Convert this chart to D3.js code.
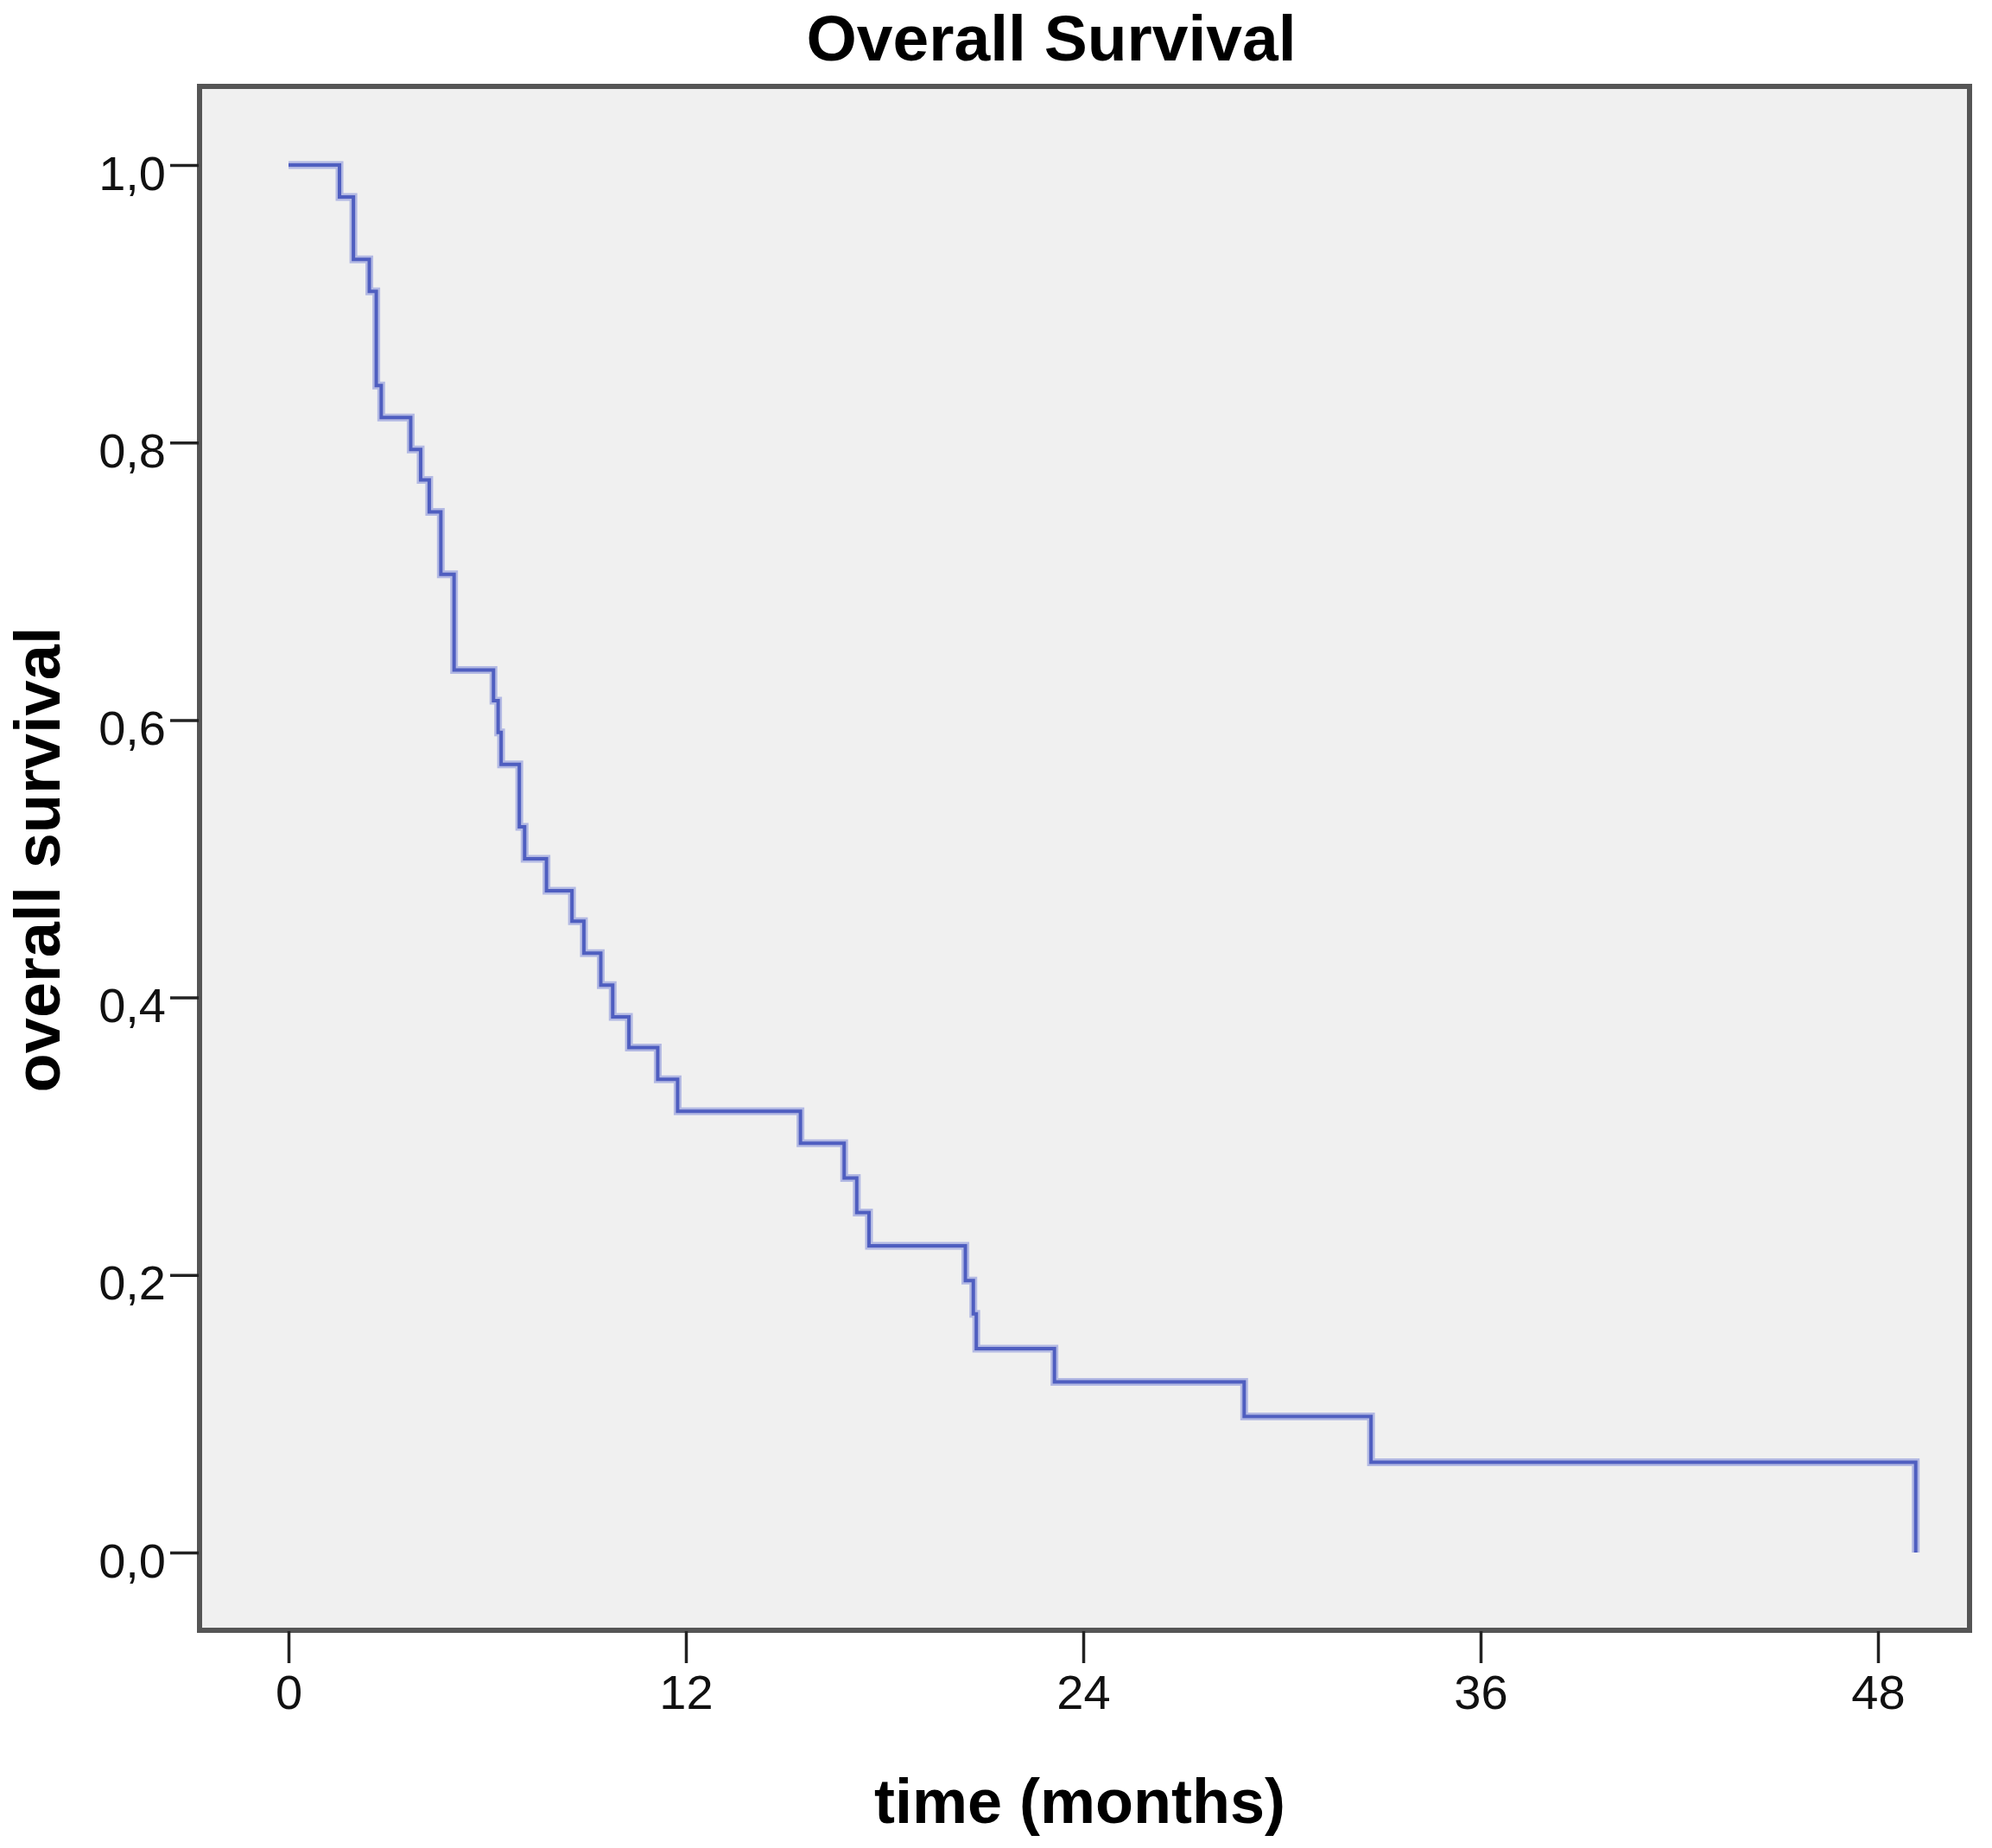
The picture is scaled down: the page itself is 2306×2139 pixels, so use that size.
<!DOCTYPE html>
<html>
<head>
<meta charset="utf-8">
<script src="https://cdn.jsdelivr.net/npm/d3@7"></script>
<style>
  html, body { margin: 0; padding: 0; background: #fff; }
  svg { display: block; font-family: "Liberation Sans", Arial, sans-serif; }
</style>
</head>
<body>
<div id="chart"></div>
<script>
// Kaplan-Meier step points (months, survival after the step)
const times = [0, 1.54, 1.96, 2.44, 2.65, 2.80, 3.69, 3.99, 4.25, 4.60, 5.00,
  6.19, 6.33, 6.42, 6.97, 7.13, 7.79, 8.56, 8.92, 9.43, 9.79, 10.28, 11.15, 11.75,
  15.46, 16.78, 17.16, 17.53, 20.44, 20.68, 20.77, 23.13, 28.86, 32.69, 49.14];
const survival = [1.0, 0.977, 0.932, 0.909, 0.841, 0.818, 0.795, 0.773, 0.750, 0.705, 0.636,
  0.614, 0.591, 0.568, 0.523, 0.500, 0.477, 0.455, 0.432, 0.409, 0.386, 0.364, 0.341, 0.318,
  0.295, 0.270, 0.245, 0.221, 0.196, 0.172, 0.147, 0.123, 0.098, 0.065, 0.0];

const xTicks = [0, 12, 24, 36, 48];
const yTicks = [0, 0.2, 0.4, 0.6, 0.8, 1.0];

const W = 2306, H = 2139;
// plot frame
const frame = { left: 231, top: 100, right: 2280, bottom: 1887 };

const svg = d3.select("#chart").append("svg")
  .attr("width", W)
  .attr("height", H);

const x = d3.scaleLinear().domain([0, 48]).range([334, 2174]);
const y = d3.scaleLinear().domain([0, 1]).range([1797, 191]);

// 背景
svg.append("rect")
  .attr("x", frame.left).attr("y", frame.top)
  .attr("width", frame.right - frame.left)
  .attr("height", frame.bottom - frame.top)
  .attr("fill", "#f0f0f0");

// curve
const pts = times.map((t, i) => [t, survival[i]]);
const line = d3.line()
  .x(d => x(d[0]))
  .y(d => y(d[1]))
  .curve(d3.curveStepAfter);

svg.append("path")
  .datum(pts)
  .attr("fill", "none")
  .attr("stroke", "#b3b9e3")
  .attr("stroke-width", 9)
  .attr("d", line);

svg.append("path")
  .datum(pts)
  .attr("fill", "none")
  .attr("stroke", "#4f5ec0")
  .attr("stroke-width", 4)
  .attr("d", line);

// frame border
svg.append("rect")
  .attr("x", frame.left).attr("y", frame.top)
  .attr("width", frame.right - frame.left)
  .attr("height", frame.bottom - frame.top)
  .attr("fill", "none")
  .attr("stroke", "#555")
  .attr("stroke-width", 6);

const fmt = d => d3.format(".1f")(d).replace(".", ",");

// y axis
svg.append("g")
  .attr("transform", `translate(${frame.left - 1},0)`)
  .call(d3.axisLeft(y).tickValues(yTicks).tickFormat(fmt).tickSize(33).tickPadding(5))
  .call(g => g.select(".domain").remove())
  .call(g => g.selectAll(".tick line").attr("stroke", "#222").attr("stroke-width", 3.5))
  .call(g => g.selectAll(".tick text")
    .attr("font-size", 56)
    .attr("font-family", "Liberation Sans, Arial, sans-serif")
    .attr("fill", "#111")
    .attr("dy", "0.5em"));

// x axis
svg.append("g")
  .attr("transform", `translate(0,${frame.bottom + 1})`)
  .call(d3.axisBottom(x).tickValues(xTicks).tickSize(37).tickPadding(13))
  .call(g => g.select(".domain").remove())
  .call(g => g.selectAll(".tick line").attr("stroke", "#222").attr("stroke-width", 3.5))
  .call(g => g.selectAll(".tick text")
    .attr("font-size", 56)
    .attr("font-family", "Liberation Sans, Arial, sans-serif")
    .attr("fill", "#111"));

// titles
svg.append("text")
  .attr("x", 1217).attr("y", 70)
  .attr("text-anchor", "middle")
  .attr("font-size", 75)
  .attr("font-weight", "bold")
  .attr("fill", "#000")
  .text("Overall Survival");

svg.append("text")
  .attr("x", 1250).attr("y", 2110)
  .attr("text-anchor", "middle")
  .attr("font-size", 72)
  .attr("font-weight", "bold")
  .attr("fill", "#000")
  .text("time (months)");

svg.append("text")
  .attr("transform", "translate(69,995) rotate(-90)")
  .attr("text-anchor", "middle")
  .attr("font-size", 74)
  .attr("font-weight", "bold")
  .attr("fill", "#000")
  .text("overall survival");
</script>
</body>
</html>
